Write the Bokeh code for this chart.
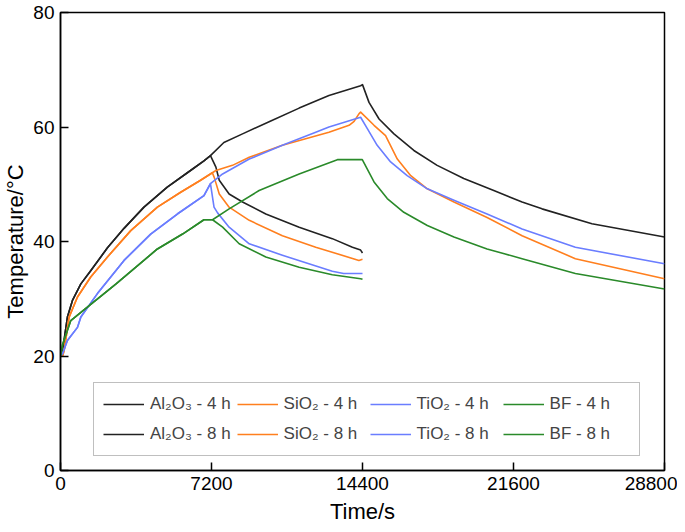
from bokeh.plotting import figure
from bokeh.models import Legend, LegendItem, FixedTicker, Range1d
from bokeh.embed import file_html
from bokeh.resources import INLINE

# ---- data (time in s, temperature in °C) ----
al_heat_t = [0, 100, 200, 330, 570, 970, 1440, 2240, 3030, 3980, 5090, 6200, 6840, 7150]
al_heat_T = [20, 20.5, 23.5, 26.8, 29.7, 32.6, 34.9, 38.9, 42.3, 46.0, 49.5, 52.4, 54.1, 55.0]
al_4h_cool_t = [7410, 7570, 8040, 8680, 9790, 11380, 12960, 13920, 14310, 14400]
al_4h_cool_T = [53.0, 50.7, 48.3, 46.9, 44.8, 42.5, 40.5, 39.0, 38.5, 38.0]
al_8h_rest_t = [7790, 8680, 10000, 11380, 12800, 14310, 14400, 14710, 15190, 15900,
                16850, 17960, 19230, 20660, 22010, 22960, 25340, 28800]
al_8h_rest_T = [57.3, 58.8, 61.0, 63.3, 65.5, 67.2, 67.4, 64.3, 61.4, 58.8,
                55.9, 53.3, 51.0, 48.9, 46.9, 45.7, 43.1, 40.8]

si_heat_t = [0, 100, 175, 410, 810, 1440, 2240, 3350, 4620, 5730, 6680, 7240]
si_heat_T = [20, 20.0, 21.0, 26.8, 30.3, 33.8, 37.3, 41.9, 46.0, 48.6, 50.7, 52.0]
si_4h_cool_t = [7330, 7570, 8040, 9000, 10580, 12170, 14230, 14400]
si_4h_cool_T = [51.2, 48.3, 46.0, 43.7, 41.0, 39.0, 36.7, 36.9]
si_8h_rest_t = [7410, 8200, 9000, 10580, 12800, 13760, 14000, 14230, 14310, 14950,
                15500, 15660, 16060, 16700, 17490, 18760, 20340, 22010, 24550, 28800]
si_8h_rest_T = [52.4, 53.3, 54.7, 56.8, 59.1, 60.3, 61.0, 62.3, 62.6, 60.3,
                58.5, 57.3, 54.4, 51.5, 49.2, 46.9, 44.2, 41.0, 37.0, 33.5]

ti_heat_t = [0, 95, 330, 810, 970, 1760, 3030, 4300, 5570, 6840, 7150]
ti_heat_T = [20, 20.4, 22.7, 25.0, 26.8, 30.9, 36.7, 41.3, 44.8, 48.0, 50.1]
ti_4h_cool_t = [7320, 7490, 8040, 9000, 10580, 12960, 13500, 14310, 14400]
ti_4h_cool_T = [46.0, 45.0, 42.5, 39.6, 37.6, 34.8, 34.4, 34.4, 34.4]
ti_8h_rest_t = [7730, 9000, 10580, 12170, 12800, 14310, 14630, 15100, 15740, 16530,
                17490, 18760, 20340, 22010, 24550, 28800]
ti_8h_rest_T = [51.8, 54.4, 56.8, 59.1, 60.0, 61.7, 59.7, 56.8, 53.9, 51.5,
                49.2, 47.2, 44.8, 42.2, 39.0, 36.1]

bf_heat_t = [0, 100, 490, 1060, 2650, 4620, 5820, 6840, 7250]
bf_heat_T = [20, 22, 26.2, 27.9, 32.6, 38.7, 41.3, 43.8, 43.8]
bf_4h_cool_t = [7730, 8520, 9790, 11380, 12960, 14310, 14400]
bf_4h_cool_T = [42.5, 39.6, 37.3, 35.5, 34.2, 33.5, 33.4]
bf_8h_rest_t = [8040, 9470, 11380, 13200, 14390, 14950, 15580, 16370, 17490, 18760,
                20340, 22010, 24550, 28800]
bf_8h_rest_T = [45.7, 48.9, 51.8, 54.3, 54.3, 50.4, 47.5, 45.1, 42.8, 40.8,
                38.7, 37.0, 34.4, 31.7]

labels = ["Al\u2082O\u2083", "SiO\u2082", "TiO\u2082", "BF"]
colors = ["#222222", "#ff7f1e", "#6a7dff", "#2a8a2a"]
x_ticks = [0, 7200, 14400, 21600, 28800]
y_ticks = [0, 20, 40, 60, 80]

series = [
    (al_heat_t, al_heat_T, al_4h_cool_t, al_4h_cool_T, al_8h_rest_t, al_8h_rest_T),
    (si_heat_t, si_heat_T, si_4h_cool_t, si_4h_cool_T, si_8h_rest_t, si_8h_rest_T),
    (ti_heat_t, ti_heat_T, ti_4h_cool_t, ti_4h_cool_T, ti_8h_rest_t, ti_8h_rest_T),
    (bf_heat_t, bf_heat_T, bf_4h_cool_t, bf_4h_cool_T, bf_8h_rest_t, bf_8h_rest_T),
]

FONT = "Liberation Sans"

p = figure(width=677, height=528, x_range=Range1d(0, 28800), y_range=Range1d(0, 80),
           output_backend="svg", toolbar_location=None,
           min_border_left=53, min_border_right=13, min_border_top=12, min_border_bottom=58)

p.grid.visible = False
p.outline_line_color = "#000000"
p.outline_line_width = 1.5
p.background_fill_color = "white"
p.border_fill_color = "white"

items = []
for lab, col, (ht, hT, ct, cT, rt, rT) in zip(labels, colors, series):
    r8 = p.line(ht + rt, hT + rT, line_color=col, line_width=1.6, line_join="round")
    r4 = p.line(ht + ct, hT + cT, line_color=col, line_width=1.6, line_join="round")
    items.append((lab, r4, r8))

for ax in (p.xaxis[0], p.yaxis[0]):
    ax.major_tick_in = 8
    ax.major_tick_out = 0
    ax.minor_tick_line_color = None
    ax.axis_line_width = 1.5
    ax.major_tick_line_width = 1.5
    ax.axis_line_color = "#000000"
    ax.major_label_text_font = FONT
    ax.major_label_text_font_size = "19px"
    ax.major_label_text_color = "#000000"
    ax.axis_label_text_font = FONT
    ax.axis_label_text_font_size = "22px"
    ax.axis_label_text_font_style = "normal"
    ax.axis_label_text_color = "#000000"

p.xaxis.ticker = FixedTicker(ticks=x_ticks)
p.yaxis.ticker = FixedTicker(ticks=y_ticks)
p.xaxis.axis_label = "Time/s"
p.yaxis.axis_label = "Temperature/\u00b0C"
p.xaxis.major_label_standoff = 6
p.yaxis.major_label_standoff = 6
p.xaxis.axis_label_standoff = 6
p.yaxis.axis_label_standoff = 2

legend_items = []
for lab, r4, r8 in items:
    legend_items.append(LegendItem(label=lab + " - 4 h", renderers=[r4]))
    legend_items.append(LegendItem(label=lab + " - 8 h", renderers=[r8]))

legend = Legend(items=legend_items, location=(33, 14), orientation="vertical", nrows=2,
                label_text_font=FONT, label_text_font_size="17px",
                glyph_width=41, glyph_height=20, label_height=24, label_width=80,
                label_standoff=6, spacing=6, padding=9, margin=0,
                border_line_color="#7f7f7f", border_line_width=1,
                background_fill_alpha=1.0)
p.add_layout(legend, "center")

open("out.html", "w").write(file_html(p, INLINE))
